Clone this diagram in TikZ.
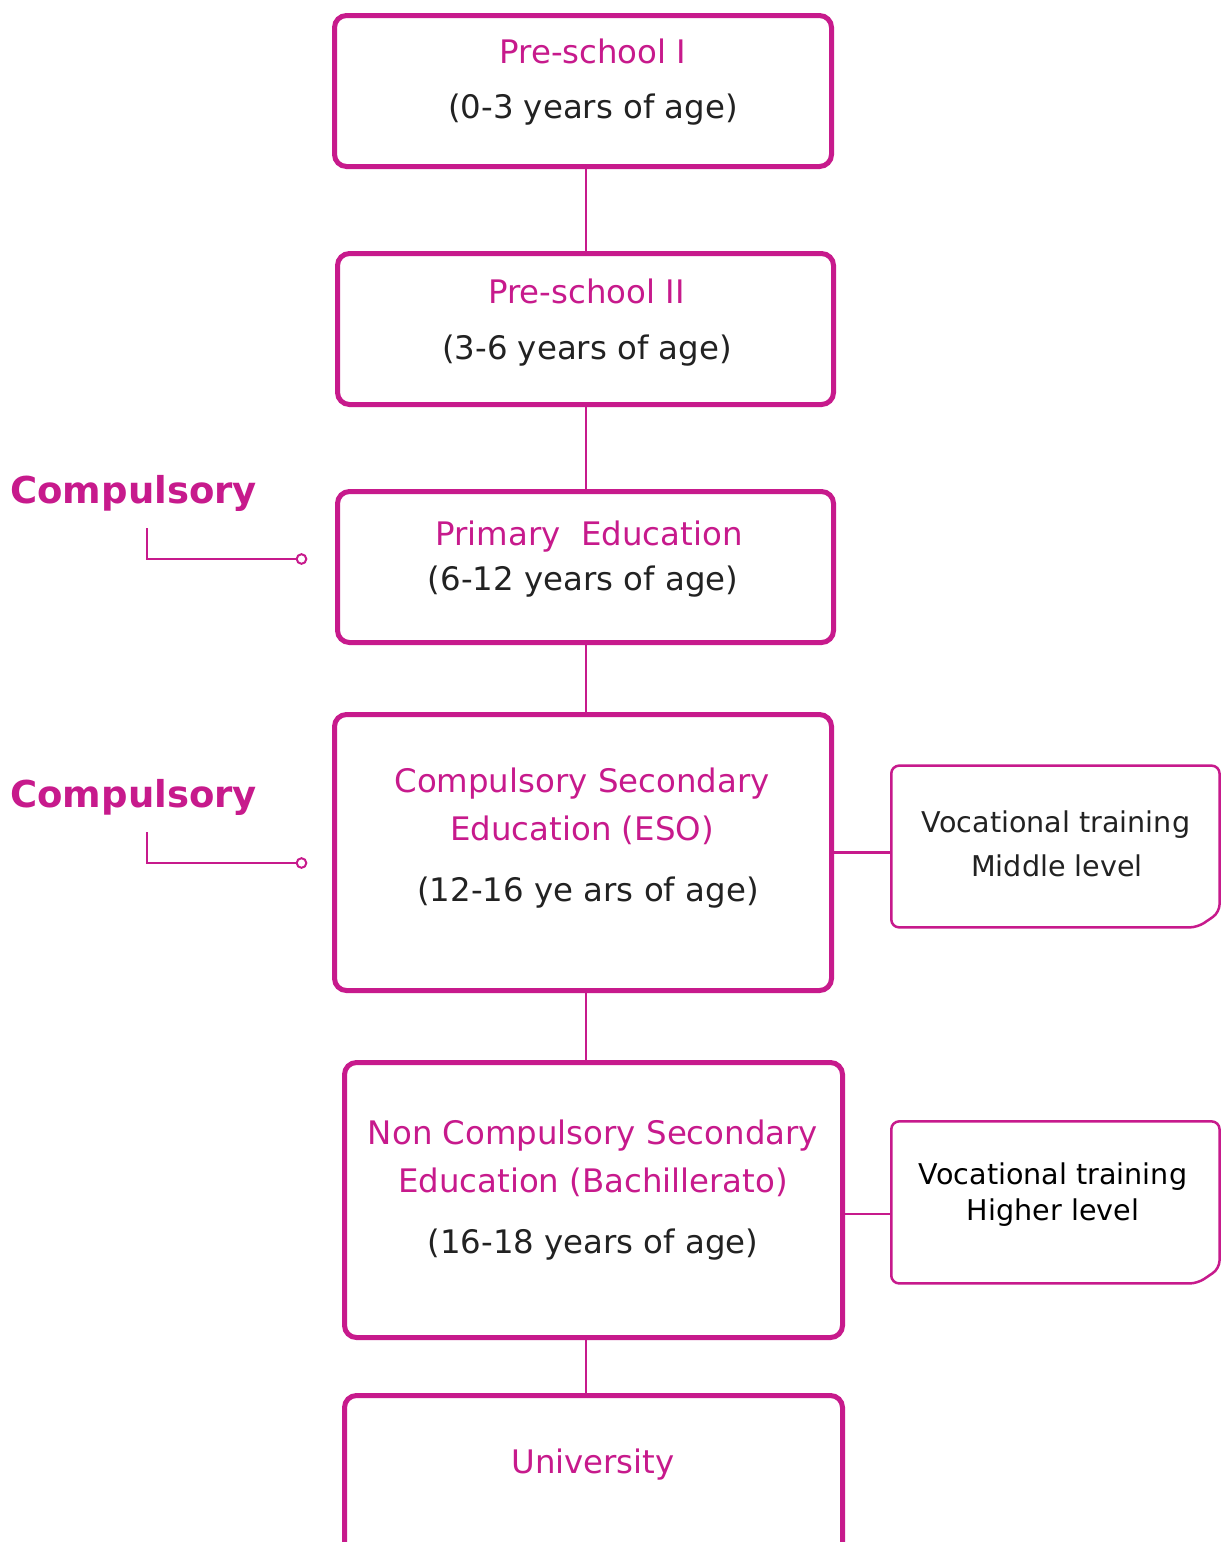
\documentclass[tikz,border=0pt]{standalone}
\usepackage{fontspec}
\setmainfont{DejaVu Sans}
\definecolor{mag}{RGB}{199,26,140}
\definecolor{ink}{RGB}{34,34,34}
\begin{document}
\begin{tikzpicture}[x=0.5pt,y=-0.5pt,
  mainbox/.style={draw=mag, line width=2.5pt, rounded corners=6pt, minimum width=248.5pt, inner sep=0pt},
  vocshape/.style={rectangle, draw=none, minimum width=163.75pt, minimum height=80.5pt, inner sep=0pt},
  vocline/.style={draw=mag, line width=1.25pt, rounded corners=4pt},
  link/.style={draw=mag, line width=1.25pt},
  tick/.style={draw=mag, line width=1pt},
  dot/.style={circle, draw=mag, fill=white, line width=1pt, inner sep=0pt, minimum size=4.8pt},
  title/.style={anchor=base, inner sep=0pt, text=mag, font=\fontsize{16.2}{19}\selectfont},
  age/.style={anchor=base, inner sep=0pt, text=ink, font=\fontsize{16.2}{19}\selectfont},
  voctext/.style={anchor=base, inner sep=0pt, font=\fontsize{14.3}{17}\selectfont},
  comp/.style={anchor=base west, inner sep=0pt, text=mag, font=\bfseries\fontsize{18.5}{22}\selectfont}
]
\useasboundingbox (0,0) rectangle (1221,1542);
\fill[white] (0,0) rectangle (1221,1542);
\clip (0,0) rectangle (1221,1542);

% main boxes
\node[mainbox, minimum height=75.5pt] (b1) at (583,91) {};
\node[mainbox, minimum height=75.5pt, minimum width=248pt] (b2) at (585.5,329) {};
\node[mainbox, minimum height=75.5pt, minimum width=248pt] (b3) at (585.5,567) {};
\node[mainbox, minimum height=138pt] (b4) at (583,852.5) {};
\node[mainbox, minimum height=137.5pt, minimum width=249pt] (b5) at (593.5,1200) {};
\node[mainbox, minimum height=79.5pt, minimum width=249pt] (b6) at (593.5,1475) {};

% texts in main boxes
\node[title] (t1a) at (593,63) {Pre-school I};
\node[age] (t1b) at (593,118) {(0-3 years of age)};
\node[title] (t2a) at (586.5,303) {Pre-school II};
\node[age] (t2b) at (587,359) {(3-6 years of age)};
\node[title] (t3a) at (589,545) {Primary\ \ Education};
\node[age] (t3b) at (583,590) {(6-12 years of age)};
\node[title] (t4a) at (582,792) {Compulsory Secondary};
\node[title] (t4b) at (582,840) {Education (ESO)};
\node[age] (t4c) at (588,901) {(12-16 ye ars of age)};
\node[title] (t5a) at (593,1144) {Non Compulsory Secondary};
\node[title] (t5b) at (593,1192) {Education (Bachillerato)};
\node[age] (t5c) at (593,1253) {(16-18 years of age)};
\node[title] (t6a) at (593,1473) {University};

% vocational boxes
\node[vocshape] (v1) at (1055.4,846.5) {};
\node[vocshape, minimum height=80.65pt] (v2) at (1055.4,1202.4) {};
\draw[vocline] ([xshift=-11pt]v1.south east) -- (v1.south west) -- (v1.north west) -- (v1.north east) -- ([yshift=7.5pt]v1.south east) -- cycle;
\draw[vocline] ([xshift=-11pt]v2.south east) -- (v2.south west) -- (v2.north west) -- (v2.north east) -- ([yshift=7.5pt]v2.south east) -- cycle;
\node[voctext, text=ink] (v1a) at (1056,832) {Vocational training};
\node[voctext, text=ink] (v1b) at (1057,876) {Middle level};
\node[voctext, text=black] (v2a) at (1053,1184) {Vocational training};
\node[voctext, text=black] (v2b) at (1053,1220) {Higher level};

% spine connectors
\coordinate (spine) at (586,0);
\draw[link] (b1.south -| spine) -- (b2.north -| spine);
\draw[link] (b2.south -| spine) -- (b3.north -| spine);
\draw[link] (b3.south -| spine) -- (b4.north -| spine);
\draw[link] (b4.south -| spine) -- (b5.north -| spine);
\draw[link] (b5.south -| spine) -- (b6.north -| spine);

% side connectors
\draw[link] (b4.east) -- (b4.east -| v1.west);
\draw[link] ([yshift=-7pt]b5.east) -- ([yshift=-7pt]b5.east -| v2.west);

% compulsory labels
\node[comp] (c1) at (10,503) {Compulsory};
\node[comp] (c2) at (10,807) {Compulsory};
\coordinate (k1) at (147,528);
\coordinate (k2) at (147,832);
\node[dot] (d1) at (301.5,559) {};
\node[dot] (d2) at (301.5,863) {};
\draw[tick] (k1) |- (d1.west);
\draw[tick] (k2) |- (d2.west);
\end{tikzpicture}
\end{document}
